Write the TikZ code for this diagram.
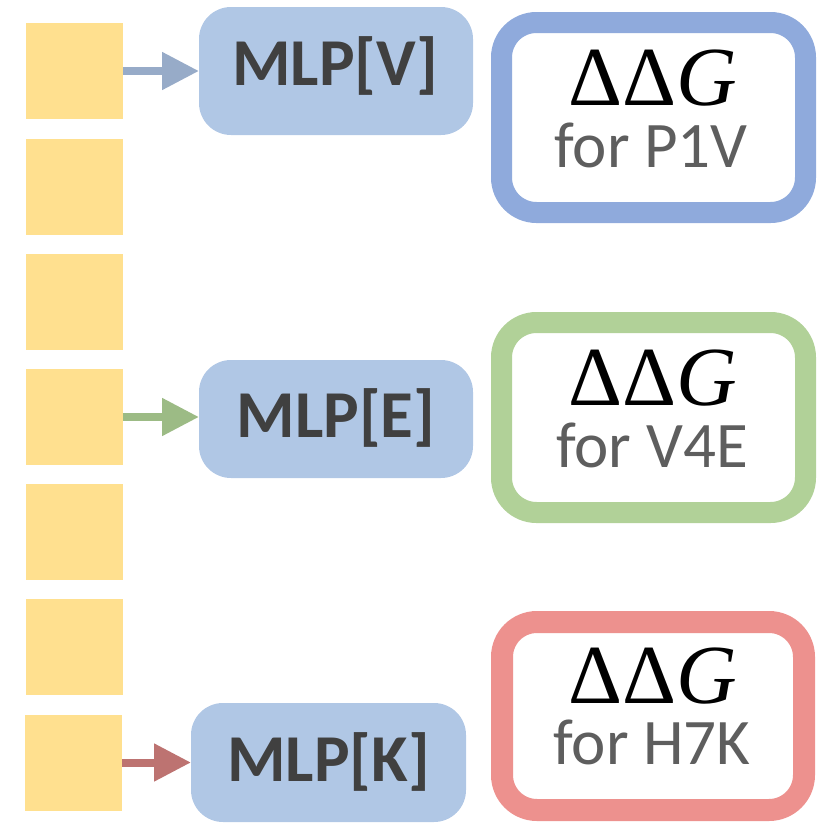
\documentclass[tikz,border=0pt]{standalone}
\usepackage{fontspec}
\setmainfont{Carlito}
\newfontfamily\serifG{Liberation Serif}
\usetikzlibrary{arrows.meta}
\definecolor{sqcol}{HTML}{FFE08F}
\definecolor{mlpfill}{HTML}{B0C7E5}
\definecolor{mlptxt}{HTML}{404040}
\definecolor{fortxt}{HTML}{5E5E5E}
\definecolor{arrV}{HTML}{97ABC8}
\definecolor{arrE}{HTML}{9CBB85}
\definecolor{arrK}{HTML}{BD7371}
\definecolor{bordV}{HTML}{8FAADC}
\definecolor{bordE}{HTML}{B1D198}
\definecolor{bordK}{HTML}{ED918E}
\begin{document}
\begin{tikzpicture}[x=1pt,y=-1pt,
  sqbox/.style={fill=sqcol, minimum width=97pt, minimum height=96pt, inner sep=0pt, outer sep=0pt},
  mlpbox/.style={fill=mlpfill, rounded corners=32pt, minimum width=274pt, inner sep=0pt, outer sep=0pt},
  resbox/.style={draw, line width=21pt, rounded corners=35pt, minimum width=304pt, minimum height=190pt, inner sep=0pt, fill=white},
  mlptext/.style={anchor=base, inner sep=0pt, text=mlptxt, font=\fontsize{67}{67}\selectfont\bfseries},
  ddgtext/.style={anchor=base, inner sep=0pt, text depth=0pt, text=black, font=\fontsize{84}{84}\selectfont\serifG},
  fortext/.style={anchor=base, inner sep=0pt, text height=38pt, text=fortxt, font=\fontsize{65}{65}\selectfont},
  feed/.style={line width=8pt, -{Triangle[length=37pt,width=36pt]}}]
\useasboundingbox (0,0) rectangle (830,830);
% column of squares
\node[sqbox] (s1) at (74.5,71) {};
\node[sqbox] (s2) at (74.5,186.5) {};
\node[sqbox] (s3) at (74.5,301.5) {};
\node[sqbox] (s4) at (74.5,417) {};
\node[sqbox] (s5) at (74.5,532) {};
\node[sqbox] (s6) at (74.5,647) {};
\node[sqbox] (s7) at (73.5,762.5) {};
% MLP boxes
\node[mlpbox, minimum height=128pt] (mv) at (336,71) {};
\node[mlpbox, minimum height=118pt] (me) at (336,419) {};
\node[mlpbox, minimum height=119pt, minimum width=275pt] (mk) at (328.5,762.5) {};
\node[mlptext] (tv) at (335,85) {MLP[V]};
\node[mlptext] (te) at (336,437) {MLP[E]};
\node[mlptext] (tk) at (328.5,781) {MLP[K]};
% arrows
\draw[feed, arrV] (s1.east) -- (mv.west);
\draw[feed, arrE] (s4.east) -- (me.west |- s4.east);
\draw[feed, arrK] (s7.east) -- (mk.west);
% result boxes
\node[resbox, draw=bordV] (rv) at (653.5,117.5) {};
\node[resbox, draw=bordE] (re) at (653.5,417.5) {};
\node[resbox, draw=bordK, line width=22pt, minimum width=302pt, minimum height=188pt] (rk) at (653,716) {};
\node[ddgtext] (dv) at (652.5,105) {ΔΔ\textit{G}};
\node[ddgtext] (de) at (653,405) {ΔΔ\textit{G}};
\node[ddgtext] (dk) at (652.5,703) {ΔΔ\textit{G}};
\node[fortext] (fv) at (651,167) {for P1V};
\node[fortext] (fe) at (652,467) {for V4E};
\node[fortext] (fk) at (652,764) {for H7K};
\end{tikzpicture}
\end{document}
